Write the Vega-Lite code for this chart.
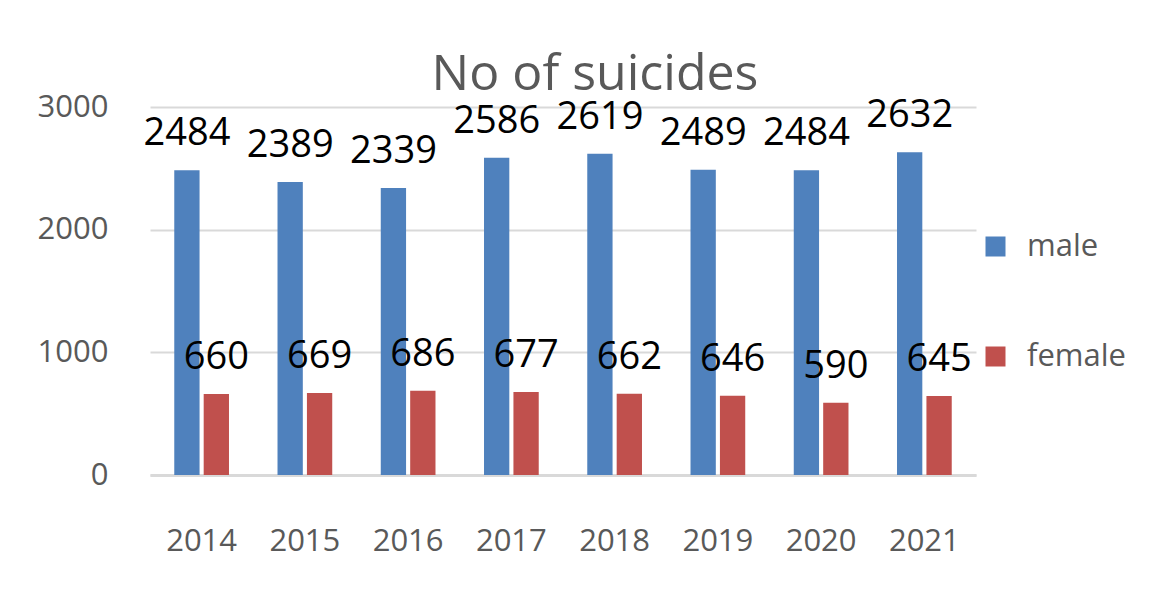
{
  "$schema": "https://vega.github.io/schema/vega-lite/v6.json",
  "width": 826,
  "height": 368,
  "autosize": {"type": "none"},
  "padding": {"left": 150, "top": 107, "right": 197, "bottom": 127},
  "background": "white",
  "title": {
    "text": "No of suicides",
    "font": "Open Sans",
    "fontSize": 50,
    "fontWeight": "normal",
    "color": "#595959",
    "anchor": "middle",
    "dx": 32,
    "baseline": "alphabetic",
    "offset": -49
  },
  "data": {
    "values": [
      {"year": "2014", "sex": "male", "count": 2484},
      {"year": "2014", "sex": "female", "count": 660},
      {"year": "2015", "sex": "male", "count": 2389},
      {"year": "2015", "sex": "female", "count": 669},
      {"year": "2016", "sex": "male", "count": 2339},
      {"year": "2016", "sex": "female", "count": 686},
      {"year": "2017", "sex": "male", "count": 2586},
      {"year": "2017", "sex": "female", "count": 677},
      {"year": "2018", "sex": "male", "count": 2619},
      {"year": "2018", "sex": "female", "count": 662},
      {"year": "2019", "sex": "male", "count": 2489},
      {"year": "2019", "sex": "female", "count": 646},
      {"year": "2020", "sex": "male", "count": 2484},
      {"year": "2020", "sex": "female", "count": 590},
      {"year": "2021", "sex": "male", "count": 2632},
      {"year": "2021", "sex": "female", "count": 645}
    ]
  },
  "encoding": {
    "x": {
      "field": "year",
      "type": "nominal",
      "scale": {"paddingInner": 0.47, "paddingOuter": 0.235},
      "axis": {
        "title": null,
        "labelAngle": 0,
        "labelFont": "Open Sans",
        "labelFontSize": 31,
        "labelColor": "#595959",
        "labelPadding": 51,
        "ticks": false,
        "domainColor": "#d9d9d9",
        "domainWidth": 3,
        "grid": false
      }
    },
    "xOffset": {
      "field": "sex",
      "type": "nominal",
      "sort": ["male", "female"],
      "scale": {"paddingInner": 0.14, "paddingOuter": 0}
    },
    "y": {
      "field": "count",
      "type": "quantitative",
      "scale": {"domain": [0, 3000], "nice": false},
      "axis": {
        "title": null,
        "values": [0, 1000, 2000, 3000],
        "format": "d",
        "labelFont": "Open Sans",
        "labelFontSize": 31,
        "labelColor": "#595959",
        "labelPadding": 42,
        "ticks": false,
        "domain": false,
        "gridColor": "#d9d9d9",
        "gridWidth": 2
      }
    }
  },
  "layer": [
    {
      "mark": {"type": "bar"},
      "encoding": {
        "color": {
          "field": "sex",
          "type": "nominal",
          "sort": ["male", "female"],
          "scale": {"domain": ["male", "female"], "range": ["#4F81BD", "#C0504D"]},
          "legend": {
            "title": null,
            "orient": "none",
            "legendX": 830,
            "legendY": 124,
            "symbolType": "square",
            "symbolSize": 400,
            "symbolStrokeWidth": 0,
            "labelFont": "Open Sans",
            "labelFontSize": 31,
            "labelColor": "#595959",
            "labelOffset": 16,
            "rowPadding": 78
          }
        }
      }
    },
    {
      "mark": {
        "type": "text",
        "baseline": "alphabetic",
        "dy": -25,
        "font": "Open Sans",
        "fontSize": 38,
        "color": "black"
      },
      "encoding": {
        "text": {"field": "count", "type": "quantitative"}
      }
    }
  ],
  "config": {"view": {"stroke": null}}
}
